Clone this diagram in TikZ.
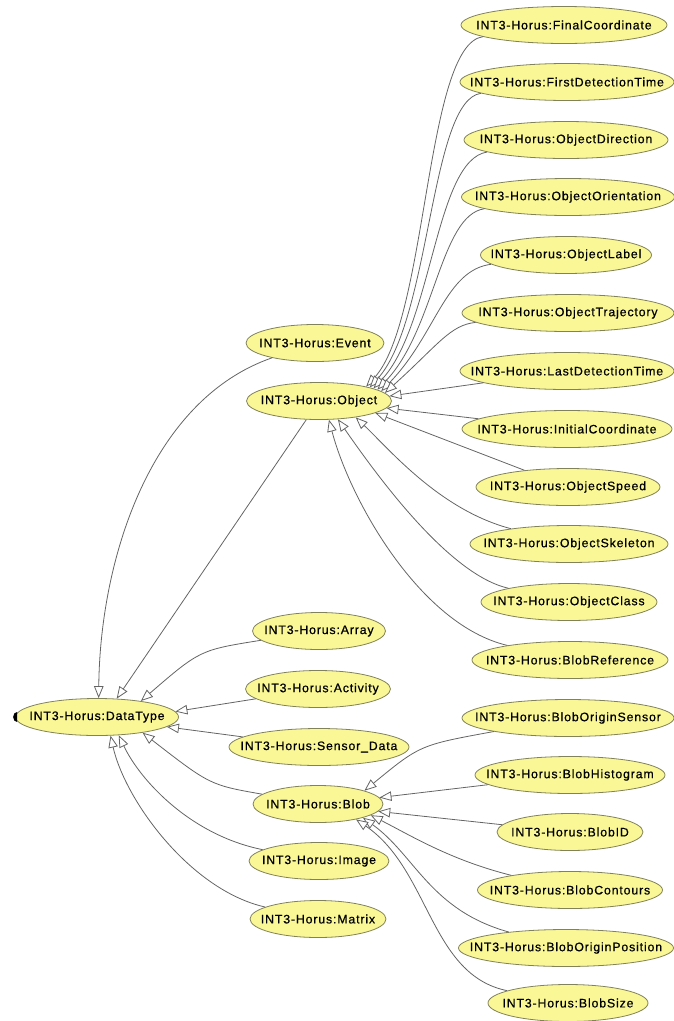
\documentclass[tikz,border=0pt]{standalone}
\usepackage{fontspec}
\usetikzlibrary{shapes.geometric,arrows.meta}
\newfontfamily\lab[LetterSpace=7,FakeBold=0.6]{Liberation Sans}
\newcommand\tx[1]{\makebox[0pt][c]{#1}}
\definecolor{yel}{RGB}{250,247,150}
\definecolor{bord}{RGB}{130,130,90}
\definecolor{edgec}{RGB}{100,100,100}
\tikzset{
  cls/.style={ellipse, draw=bord, fill=yel, line width=0.8pt, minimum height=37pt, inner sep=0pt, font=\lab\fontsize{12.3}{14}\selectfont},
  edge/.style={draw=edgec, line width=0.8pt, -{Triangle[open, length=12pt, width=9.5pt, fill=white]}}
}
\begin{document}
\begin{tikzpicture}[x=1pt,y=-1pt]
\useasboundingbox (0,0) rectangle (674,1021);
% right column
\node[cls, minimum width=206pt] (fc)  at (564,25)  {\tx{INT3-Horus:FinalCoordinate}};
\node[cls, minimum width=214pt] (fdt) at (567,82)  {\tx{INT3-Horus:FirstDetectionTime}};
\node[cls, minimum width=204pt] (od)  at (566,140) {\tx{INT3-Horus:ObjectDirection}};
\node[cls, minimum width=213pt] (oo)  at (568,197) {\tx{INT3-Horus:ObjectOrientation}};
\node[cls, minimum width=171pt] (ol)  at (566,255) {\tx{INT3-Horus:ObjectLabel}};
\node[cls, minimum width=212pt] (ot)  at (568,313) {\tx{INT3-Horus:ObjectTrajectory}};
\node[cls, minimum width=214pt] (ldt) at (567,371) {\tx{INT3-Horus:LastDetectionTime}};
\node[cls, minimum width=210pt] (ic)  at (567,429) {\tx{INT3-Horus:InitialCoordinate}};
\node[cls, minimum width=184pt] (os)  at (568,487) {\tx{INT3-Horus:ObjectSpeed}};
\node[cls, minimum width=198pt] (osk) at (569,544) {\tx{INT3-Horus:ObjectSkeleton}};
\node[cls, minimum width=176pt] (oc)  at (569,602) {\tx{INT3-Horus:ObjectClass}};
\node[cls, minimum width=196pt] (br)  at (570,660) {\tx{INT3-Horus:BlobReference}};
\node[cls, minimum width=212pt] (bos) at (568,718) {\tx{INT3-Horus:BlobOriginSensor}};
\node[cls, minimum width=190pt] (bh)  at (570,775) {\tx{INT3-Horus:BlobHistogram}};
\node[cls, minimum width=146pt] (bid) at (570,832) {\tx{INT3-Horus:BlobID}};
\node[cls, minimum width=185pt] (bc)  at (570,890) {\tx{INT3-Horus:BlobContours}};
\node[cls, minimum width=215pt] (bop) at (566,948) {\tx{INT3-Horus:BlobOriginPosition}};
\node[cls, minimum width=160pt] (bs)  at (568,1003) {\tx{INT3-Horus:BlobSize}};
% middle column
\node[cls, minimum width=138pt] (ev)   at (315,343) {\tx{INT3-Horus:Event}};
\node[cls, minimum width=145pt] (obj)  at (319,401) {\tx{INT3-Horus:Object}};
\node[cls, minimum width=133pt] (arr)  at (319,631) {\tx{INT3-Horus:Array}};
\node[cls, minimum width=145pt] (act)  at (318,689) {\tx{INT3-Horus:Activity}};
\node[cls, minimum width=180pt] (sd)   at (319,747) {\tx{INT3-Horus:Sensor\_Data}};
\node[cls, minimum width=130pt] (blob) at (318,804) {\tx{INT3-Horus:Blob}};
\node[cls, minimum width=140pt] (img)  at (319,861) {\tx{INT3-Horus:Image}};
\node[cls, minimum width=136pt] (mat)  at (318,919) {\tx{INT3-Horus:Matrix}};
% root
\node[cls, minimum width=163pt] (dt) at (97,717) {\tx{INT3-Horus:DataType}};
\fill[black] (dt.west) ++(2pt,5pt) arc[start angle=90, end angle=270, x radius=4pt, y radius=5pt] -- cycle;
% edges to Object
\draw[edge] (fc)  .. controls (425,45) and (428,320) .. (obj.17);
\draw[edge] (fdt) .. controls (430,100) and (431,320) .. (obj.15);
\draw[edge] (od)  .. controls (435,160) and (433,325) .. (obj.13);
\draw[edge] (oo)  .. controls (440,215) and (435,330) .. (obj.11);
\draw[edge] (ol)  .. controls (445,270) and (436,335) .. (obj.9);
\draw[edge] (ot)  .. controls (450,325) and (438,345) .. (obj.7);
\draw[edge] (ldt) -- (obj.4);
\draw[edge] (ic)  -- (obj.354);
\draw[edge] (os)  -- (obj.348);
\draw[edge] (osk) .. controls (440,510) and (390,450) .. (obj.336);
\draw[edge] (oc)  .. controls (450,575) and (380,480) .. (obj.316);
\draw[edge] (br)  .. controls (420,625) and (350,500) .. (obj.298);
% edges to DataType
\draw[edge] (ev)   .. controls (150,400) and (100,560) .. (dt.85);
\draw[edge] (obj)  -- (dt.43);
\draw[edge] (arr)  .. controls (200,650) .. (dt.20);
\draw[edge] (act)  -- (dt.4);
\draw[edge] (sd)   -- (dt.352);
\draw[edge] (blob) .. controls (210,785) .. (dt.341);
\draw[edge] (img)  .. controls (190,835) and (140,780) .. (dt.320);
\draw[edge] (mat)  .. controls (190,890) and (125,800) .. (dt.306);
% edges to Blob
\draw[edge] (bos) .. controls (420,745) .. (blob.16);
\draw[edge] (bh)  -- (blob.6);
\draw[edge] (bid) -- (blob.353);
\draw[edge] (bc)  .. controls (450,860) and (410,835) .. (blob.348);
\draw[edge] (bop) .. controls (430,910) and (415,855) .. (blob.343);
\draw[edge] (bs)  .. controls (430,975) and (430,870) .. (blob.338);
\end{tikzpicture}
\end{document}
